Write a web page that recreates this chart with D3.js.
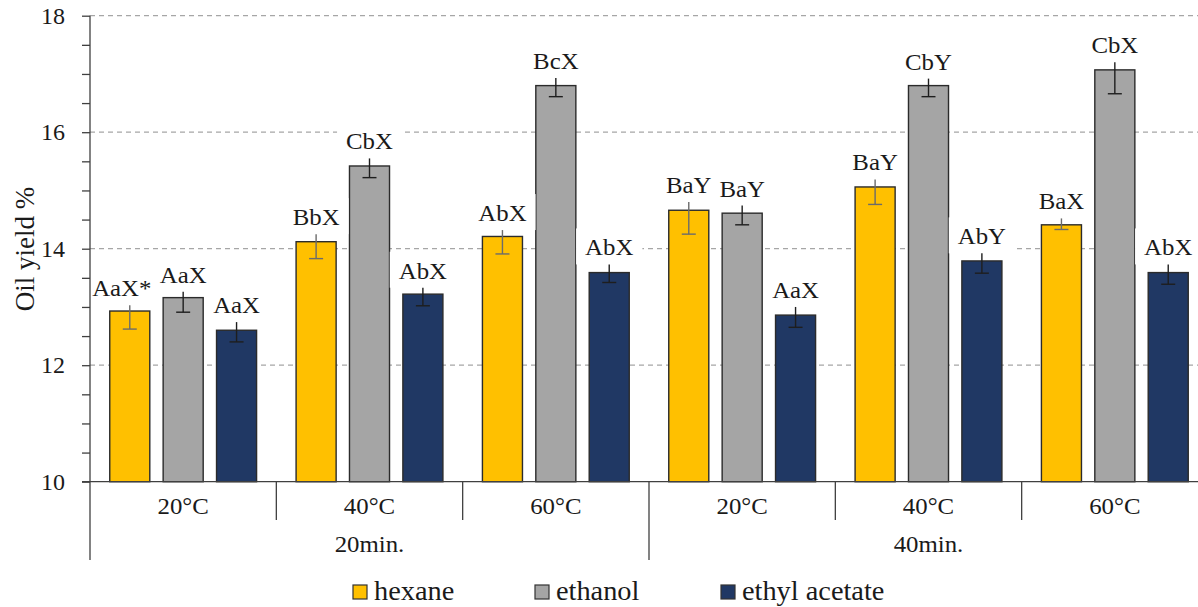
<!DOCTYPE html>
<html>
<head>
<meta charset="utf-8">
<script src="https://cdn.jsdelivr.net/npm/d3@7"></script>
<style>
  body { margin: 0; background: #fff; }
  svg { display: block; font-family: "Liberation Serif", "Times New Roman", serif; }
</style>
</head>
<body>
<svg id="chart" width="1198" height="607"></svg>
<script>
let times = ["20min.", "40min."]
let temps = ["20°C", "40°C", "60°C"]
let solvents = ["hexane", "ethanol", "ethyl acetate"]
let colors = ["#FFC000", "#A5A5A5", "#203864"]

// rows = solvents, columns = 20min 20/40/60 then 40min 20/40/60
let yields = [
  [12.93, 14.12, 14.21, 14.66, 15.06, 14.41],
  [13.16, 15.42, 16.80, 14.61, 16.80, 17.07],
  [12.60, 13.22, 13.59, 12.86, 13.79, 13.59]
]
let errUp = [
  [0.10, 0.13, 0.11, 0.14, 0.13, 0.11],
  [0.10, 0.13, 0.13, 0.13, 0.12, 0.13],
  [0.14, 0.11, 0.14, 0.14, 0.13, 0.14]
]
let errDown = [
  [0.31, 0.29, 0.30, 0.41, 0.30, 0.08],
  [0.25, 0.20, 0.19, 0.20, 0.19, 0.41],
  [0.20, 0.20, 0.17, 0.21, 0.21, 0.20]
]
let letters = [
  ["AaX*", "BbX", "AbX", "BaY", "BaY", "BaX"],
  ["AaX", "CbX", "BcX", "BaY", "CbY", "CbX"],
  ["AaX", "AbX", "AbX", "AaX", "AbY", "AbX"]
]
let yTicks = [10, 12, 14, 16, 18]

let width = 1198,
    height = 607,
    plotL = 90,
    plotR = 1208,
    plotB = 481.7,
    plotT = 15.7,
    ink = "#1a1a1a";

// small stand-in for d3-selection-multi
d3.selection.prototype.attrs = function(o) {
  Object.keys(o).forEach(k => this.attr(k, o[k]));
  return this
}

function visualize() {
  let scales = make_scales();
  let rows = make_rows();
  draw_grid(scales)
  draw_bars(rows, scales)
  draw_labels(rows, scales)
  draw_errors(rows, scales)
  draw_axes(scales)
  draw_legend()
}

function make_rows() {
  let rows = [];
  solvents.forEach((s, i) => {
    times.forEach((t, ti) => {
      temps.forEach((c, ci) => {
        let j = ti * temps.length + ci;
        rows.push({
          solvent: s, si: i, group: t + " " + c,
          value: yields[i][j], up: errUp[i][j], down: errDown[i][j],
          label: letters[i][j]
        })
      })
    })
  })
  return rows
}

function make_scales() {
  let groups = times.flatMap(t => temps.map(c => t + " " + c));
  let group = d3.scaleBand()
    .domain(groups)
    .range([plotL, plotR]);
  return {
    group: group,
    time: d3.scaleBand().domain(times).range([plotL, plotR]),
    bar: d3.scaleBand()
      .domain(solvents)
      .range([0, group.bandwidth()])
      .paddingInner(0.25)
      .paddingOuter(0.37),
    y: d3.scaleLinear()
      .domain([10, 18])
      .range([plotB, plotT])
  }
}

function draw_grid(scales) {
  d3.select("#chart").append("rect")
    .attrs({ width: width, height: height, fill: "#fff" })
  d3.select("#chart").append("g")
    .selectAll("line")
    .data(yTicks.filter(d => d > 10)).enter()
    .append("line")
    .attrs({
      x1: plotL, x2: width,
      y1: d => scales.y(d), y2: d => scales.y(d),
      stroke: "#a6a6a6", "stroke-width": 1.2, "stroke-dasharray": "5,4"
    })
}

function draw_bars(rows, scales) {
  d3.select("#chart").append("g")
    .selectAll("rect")
    .data(rows).enter()
    .append("rect")
    .attrs({
      x: d => scales.group(d.group) + scales.bar(d.solvent),
      width: scales.bar.bandwidth(),
      y: d => scales.y(d.value),
      height: d => scales.y(10) - scales.y(d.value),
      fill: d => colors[d.si],
      stroke: "#2b2b2b", "stroke-width": 1.4
    })
}

function bar_mid(d, scales) {
  return scales.group(d.group) + scales.bar(d.solvent) + scales.bar.bandwidth() / 2
}

function draw_labels(rows, scales) {
  let g = d3.select("#chart").append("g");
  rows.forEach(d => {
    let x = bar_mid(d, scales) + (d.label.endsWith("*") ? -8 : 0);
    let yb = scales.y(d.value + d.up) - 9;
    let t = g.append("text")
      .attrs({ transform: `translate(${x},${yb}) scale(1.08,1)`, "text-anchor": "middle",
               "font-size": 23, fill: ink })
      .text(d.label);
    let w = t.node().getComputedTextLength() * 1.08;
    // labels sit on white boxes, which clip gridlines and neighbour bar edges
    g.insert("rect", "text")
      .attrs({ x: x - w / 2 - 9, width: w + 18, y: yb - 27, height: 36, fill: "#fff" })
  })
}

function draw_errors(rows, scales) {
  let g = d3.select("#chart").append("g");
  rows.forEach(d => {
    let x = bar_mid(d, scales),
        y1 = scales.y(d.value + d.up),
        y2 = scales.y(d.value - d.down),
        c = d.si == 0 ? "#6b6b6b" : "#1e1e1e";
    g.append("line").attrs({ x1: x, x2: x, y1: y1, y2: y2, stroke: c, "stroke-width": 1.4 })
    g.append("line").attrs({ x1: x - 7, x2: x + 7, y1: y2, y2: y2, stroke: c, "stroke-width": 1.4 })
  })
}

function draw_axes(scales) {
  let svg = d3.select("#chart");
  let axis = d3.axisLeft(scales.y)
    .tickValues(d3.range(10, 18.01, 0.5))
    .tickSize(8)
    .tickPadding(17)
    .tickFormat(d => yTicks.includes(d) ? d : "");
  let ag = svg.append("g")
    .attr("transform", `translate(${plotL},0)`)
    .call(axis);
  ag.select(".domain").remove()
  ag.selectAll(".tick line").attrs({ stroke: "#404040", "stroke-width": 1.3 })
  ag.selectAll(".tick text").attrs({ "font-size": 24, fill: ink, "font-family": "Liberation Serif" })

  let line = (x1, y1, x2, y2) => svg.append("line")
    .attrs({ x1: x1, y1: y1, x2: x2, y2: y2, stroke: "#404040", "stroke-width": 1.3 });
  line(plotL, plotT, plotL, 560)
  line(plotL - 8, plotB, width, plotB)

  // temperature dividers and labels
  scales.group.domain().forEach((k, i) => {
    let x0 = scales.group(k);
    if (i > 0 && i % temps.length != 0) line(x0, plotB, x0, 520)
    svg.append("text")
      .attrs({ transform: `translate(${x0 + scales.group.bandwidth() / 2},514) scale(1.08,1)`,
               "text-anchor": "middle", "font-size": 23, fill: ink })
      .text(temps[i % temps.length])
  })
  times.forEach((t, i) => {
    let x0 = scales.time(t);
    if (i > 0) line(x0, plotB, x0, 560)
    svg.append("text")
      .attrs({ transform: `translate(${x0 + scales.time.bandwidth() / 2},552) scale(1.08,1)`,
               "text-anchor": "middle", "font-size": 23, fill: ink })
      .text(t)
  })

  svg.append("text")
    .attrs({ transform: `translate(34,249) rotate(-90)`, "text-anchor": "middle",
             "font-size": 27, fill: ink })
    .text("Oil yield %")
}

function draw_legend() {
  let xs = [353, 535, 721];
  let g = d3.select("#chart").append("g");
  solvents.forEach((s, i) => {
    g.append("rect")
      .attrs({ x: xs[i], y: 585, width: 14, height: 14, fill: colors[i],
               stroke: "#333", "stroke-width": 1.2 })
    g.append("text")
      .attrs({ transform: `translate(${xs[i] + 21},600) scale(1.05,1)`, "font-size": 27, fill: ink })
      .text(s)
  })
}

visualize()
</script>
</body>
</html>
